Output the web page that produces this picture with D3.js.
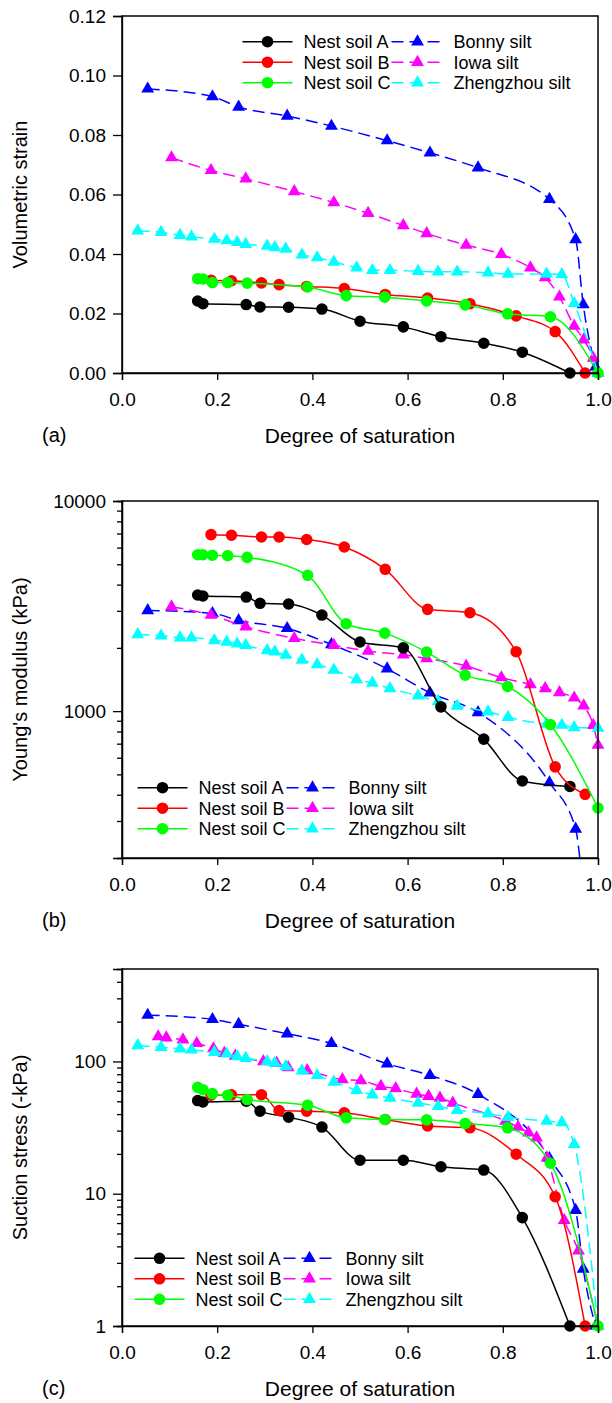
<!DOCTYPE html>
<html>
<head>
<meta charset="utf-8">
<script src="https://cdn.jsdelivr.net/npm/d3@7"></script>
<style>
body { margin: 0; background: #fff; }
svg text { font-family: Arial, "Liberation Sans", sans-serif; fill: #000; }
.axis path, .axis line { stroke: #000; stroke-width: 1.3px; }
.axis text { font-size: 19px; }
</style>
</head>
<body>
<svg id="chart" width="612" height="1403"></svg>
<script>

// degree of saturation for each soil
const satA = [0.159, 0.170, 0.261, 0.290, 0.350, 0.420, 0.500, 0.591, 0.670, 0.760, 0.841, 0.941]
const satB = [0.187, 0.230, 0.293, 0.330, 0.388, 0.467, 0.553, 0.642, 0.731, 0.828, 0.910, 0.973]
const satC = [0.159, 0.170, 0.190, 0.222, 0.263, 0.390, 0.471, 0.552, 0.640, 0.721, 0.810, 0.900, 1.0]
const satBonny = [0.054, 0.190, 0.245, 0.347, 0.440, 0.557, 0.647, 0.748, 0.898, 0.953, 0.969, 0.995]
const satIowa = [0.104, 0.187, 0.260, 0.362, 0.445, 0.517, 0.591, 0.640, 0.723, 0.797, 0.858, 0.889, 0.919, 0.950, 0.970, 0.990, 1.0]
const satIowaSuction = [0.076, 0.093, 0.128, 0.157, 0.192, 0.215, 0.238, 0.297, 0.325, 0.349, 0.389, 0.463, 0.502, 0.544, 0.575, 0.619, 0.644, 0.668, 0.695, 0.806, 0.832, 0.854, 0.871, 0.893, 0.929, 0.959, 1.0]
const satZheng = [0.033, 0.082, 0.122, 0.146, 0.194, 0.220, 0.242, 0.260, 0.305, 0.321, 0.344, 0.378, 0.410, 0.445, 0.493, 0.526, 0.563, 0.622, 0.664, 0.704, 0.769, 0.811, 0.892, 0.924, 0.950, 1.0]

// (a) volumetric strain
const strainA = [0.0242, 0.0233, 0.0230, 0.0222, 0.0221, 0.0215, 0.0174, 0.0155, 0.0122, 0.0100, 0.0070, 0.0]
const strainB = [0.0312, 0.0310, 0.0303, 0.0297, 0.0291, 0.0284, 0.0264, 0.0252, 0.0233, 0.0192, 0.0139, 0.0]
const strainC = [0.0317, 0.0316, 0.0304, 0.0304, 0.0302, 0.0289, 0.0260, 0.0255, 0.0242, 0.0229, 0.0199, 0.0189, 0.0]
const strainBonny = [0.0955, 0.0929, 0.0894, 0.0864, 0.0830, 0.0781, 0.0740, 0.0690, 0.0584, 0.0449, 0.0230, 0.002]
const strainIowa = [0.0724, 0.0681, 0.0653, 0.0610, 0.0573, 0.0537, 0.0496, 0.0469, 0.0430, 0.0399, 0.0354, 0.0321, 0.0256, 0.0158, 0.0112, 0.005, 0.0]
const strainZheng = [0.0478, 0.0473, 0.0463, 0.0458, 0.0450, 0.0445, 0.0439, 0.0433, 0.0427, 0.0422, 0.0417, 0.0397, 0.0388, 0.0373, 0.0354, 0.0345, 0.0345, 0.0342, 0.0340, 0.0340, 0.0337, 0.0333, 0.0333, 0.0331, 0.0234, 0.0]

// (b) Young's modulus, kPa
const modulusA = [3570, 3530, 3490, 3260, 3235, 2865, 2133, 2000, 1048, 736, 465, 438]
const modulusB = [6918, 6870, 6740, 6740, 6560, 6040, 4730, 3050, 2940, 1918, 543, 402]
const modulusC = [5550, 5550, 5520, 5490, 5390, 4430, 2605, 2350, 1910, 1483, 1310, 863, 346]
const modulusBonny = [3015, 2920, 2700, 2477, 2076, 1590, 1222, 986, 457, 275, 145, 60]
const modulusIowa = [3140, 2865, 2520, 2220, 2060, 1930, 1855, 1782, 1641, 1444, 1340, 1282, 1227, 1156, 1060, 857, 689]
const modulusZheng = [2317, 2285, 2235, 2235, 2170, 2133, 2094, 2055, 1945, 1918, 1848, 1750, 1667, 1570, 1413, 1360, 1282, 1183, 1112, 1057, 993, 936, 867, 858, 836, 832]

// (c) suction stress, -kPa
const suctionA = [50.6, 49.4, 50, 42.1, 37.9, 31.9, 17.9, 17.9, 16.0, 15.1, 6.6, 1.0]
const suctionB = [55.5, 56, 56, 42.6, 42.1, 40.9, 36.4, 32.5, 31.5, 19.9, 9.5, 1.0]
const suctionC = [63.7, 61.2, 57.1, 55.5, 51.5, 46.7, 37.5, 36.4, 36.2, 34.0, 31.5, 17.0, 1.0]
const suctionBonny = [224, 208, 191, 162, 137, 96, 78.5, 56.5, 18.5, 7.5, 2.7, 1.0]
const suctionIowa = [154, 151, 146, 137, 125, 115.5, 110, 100, 97, 90, 85.5, 73, 71.6, 64.9, 62.4, 56.8, 54.6, 53, 48.6, 35.4, 31.9, 28.9, 26.5, 18.7, 6.3, 3.7, 1.0]
const suctionZheng = [131.9, 128, 124.6, 122.4, 117.5, 114.2, 109, 105.9, 100, 97.1, 91.7, 85, 78.5, 70, 60.5, 56.1, 53, 48.6, 45.9, 42.8, 40.4, 37.9, 35.4, 34.6, 23.6, 1.0]

// ticks
const satTicks = [0, 0.2, 0.4, 0.6, 0.8, 1.0]
const strainTicks = [0, 0.02, 0.04, 0.06, 0.08, 0.10, 0.12]
const modulusTicks = [1000, 10000]
const modulusMinor = [300, 400, 500, 600, 700, 800, 900, 2000, 3000, 4000, 5000, 6000, 7000, 8000, 9000]
const suctionTicks = [1, 10, 100]
const suctionMinor = [2, 3, 4, 5, 6, 7, 8, 9, 20, 30, 40, 50, 60, 70, 80, 90, 200, 300, 400]

const soilNames = ['Nest soil A', 'Nest soil B', 'Nest soil C']
const siltNames = ['Bonny silt', 'Iowa silt', 'Zhengzhou silt']

const svg = d3.select('#chart')

const left = 122, right = 598

let x = d3.scaleLinear().domain([0, 1]).range([left, right])

const circle = d3.symbol().type(d3.symbolCircle).size(105)
const tri = d3.symbol().type(d3.symbolTriangle).size(72)

function seriesFor(ys) {
	// silts first so the nest soils sit on top, as in the figure
	return [
		{name: siltNames[0], color: '#0000ff', dash: true, xs: ys.satBonny || satBonny, ys: ys.bonny},
		{name: siltNames[1], color: '#ff00ff', dash: true, xs: ys.satIowa || satIowa, ys: ys.iowa},
		{name: siltNames[2], color: '#00ffff', dash: true, xs: satZheng, ys: ys.zheng},
		{name: soilNames[0], color: '#000000', dash: false, xs: satA, ys: ys.a},
		{name: soilNames[1], color: '#ff0000', dash: false, xs: satB, ys: ys.b},
		{name: soilNames[2], color: '#00ff00', dash: false, xs: satC, ys: ys.c}
	]
}

function drawPanel(p) {

	let g = svg.append('g')

	let y = p.y

	// clip only the bottom edge (for curves running below the axis)
	let clipId = 'clip' + p.tag
	g.append('clipPath').attr('id', clipId)
	.append('rect')
	.attr('x', left - 15).attr('y', p.top - 15)
	.attr('width', right - left + 30)
	.attr('height', p.bottom - p.top + 15 + p.clipPad)

	let line = d3.line()
	.x(d => x(d[0]))
	.y(d => y(d[1]))
	.curve(d3.curveMonotoneX)

	let plot = g.append('g').attr('clip-path', 'url(#' + clipId + ')')

	p.series.forEach(s => {
		let pts = s.xs.map((v, i) => [v, s.ys[i]])

		plot.append('path')
		.datum(pts)
		.attr('d', line)
		.attr('fill', 'none')
		.attr('stroke', s.color)
		.attr('stroke-width', 1.5)
		.attr('stroke-dasharray', s.dash ? '12,6' : null)

		plot.selectAll(null)
		.data(pts)
		.enter()
		.append('path')
		.attr('d', s.dash ? tri : circle)
		.attr('transform', d => 'translate(' + x(d[0]) + ',' + y(d[1]) + ')')
		.attr('fill', s.color)
	})

	// frame
	g.append('rect')
	.attr('x', left).attr('y', p.top)
	.attr('width', right - left).attr('height', p.bottom - p.top)
	.attr('fill', 'none').attr('stroke', '#000').attr('stroke-width', 1.5)

	g.append('g')
	.attr('class', 'axis')
	.attr('transform', 'translate(0,' + p.bottom + ')')
	.call(d3.axisBottom(x)
		.tickValues(satTicks)
		.tickFormat(d3.format('.1f'))
		.tickSizeOuter(0)
		.tickSize(7)
		.tickPadding(13))

	g.append('g')
	.attr('class', 'axis')
	.attr('transform', 'translate(' + left + ',0)')
	.call(d3.axisLeft(y)
		.tickValues(p.ticks)
		.tickFormat(p.format)
		.tickSizeOuter(0)
		.tickSize(9)
		.tickPadding(7))

	if (p.minor) {
		g.append('g')
		.attr('class', 'axis')
		.attr('transform', 'translate(' + left + ',0)')
		.call(d3.axisLeft(y)
			.tickValues(p.minor)
			.tickFormat('')
			.tickSizeOuter(0)
			.tickSize(5))
	}

	g.append('text')
	.attr('x', (left + right) / 2)
	.attr('y', p.bottom + 70)
	.attr('text-anchor', 'middle')
	.style('font-size', '21px')
	.text('Degree of saturation')

	g.append('text')
	.attr('x', 42)
	.attr('y', p.bottom + 69)
	.style('font-size', '20px')
	.text(p.label)

	g.append('text')
	.attr('transform', 'translate(27,' + (p.top + p.bottom) / 2 + ') rotate(-90)')
	.attr('text-anchor', 'middle')
	.style('font-size', '20px')
	.text(p.title)

	// legend: two columns, nest soils (solid) then silts (dashed)
	let lg = g.append('g').attr('transform', 'translate(' + p.legend[0] + ',' + p.legend[1] + ')')
	let soils = p.series.slice(3), silts = p.series.slice(0, 3)

	soils.forEach((s, i) => {
		let row = lg.append('g').attr('transform', 'translate(0,' + (i * 20.5) + ')')
		row.append('line').attr('x1', 0).attr('x2', 50).attr('stroke', s.color).attr('stroke-width', 1.5)
		row.append('path').attr('d', circle).attr('transform', 'translate(25,0)').attr('fill', s.color)
		row.append('text').attr('x', 61).attr('dy', '0.35em').style('font-size', '18px').text(s.name)

		let t = silts[i]
		row.append('line').attr('x1', 149).attr('x2', 199).attr('stroke', t.color)
		.attr('stroke-width', 1.5).attr('stroke-dasharray', '12,6')
		row.append('path').attr('d', tri).attr('transform', 'translate(175,0)').attr('fill', t.color)
		row.append('text').attr('x', 211).attr('dy', '0.35em').style('font-size', '18px').text(t.name)
	})
}

drawPanel({
	tag: 'a', top: 16, bottom: 373, clipPad: 30,
	y: d3.scaleLinear().domain([0, 0.12]).range([373, 16]),
	ticks: strainTicks, format: d3.format('.2f'),
	title: 'Volumetric strain', label: '(a)',
	legend: [242.5, 41.7],
	series: seriesFor({a: strainA, b: strainB, c: strainC, bonny: strainBonny, iowa: strainIowa, zheng: strainZheng})
})

drawPanel({
	tag: 'b', top: 501, bottom: 858, clipPad: 0,
	y: d3.scaleLog().domain([200, 10000]).range([858, 501]),
	ticks: modulusTicks, minor: modulusMinor, format: d3.format('d'),
	title: "Young's modulus (kPa)", label: '(b)',
	legend: [137.5, 787.7],
	series: seriesFor({a: modulusA, b: modulusB, c: modulusC, bonny: modulusBonny, iowa: modulusIowa, zheng: modulusZheng})
})

drawPanel({
	tag: 'c', top: 969, bottom: 1326, clipPad: 30,
	y: d3.scaleLog().domain([1, 500]).range([1326, 969]),
	ticks: suctionTicks, minor: suctionMinor, format: d3.format('d'),
	title: 'Suction stress (-kPa)', label: '(c)',
	legend: [134.5, 1258.3],
	series: seriesFor({a: suctionA, b: suctionB, c: suctionC, bonny: suctionBonny, iowa: suctionIowa, satIowa: satIowaSuction, zheng: suctionZheng})
})

</script>
</body>
</html>
